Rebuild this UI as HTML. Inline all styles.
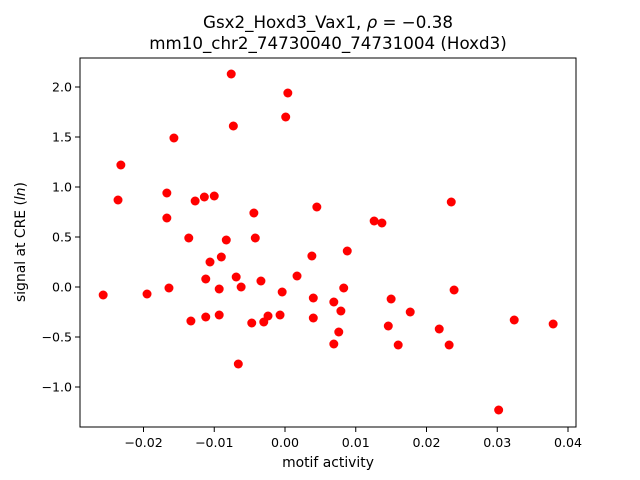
<!DOCTYPE html>
<html><head><meta charset="utf-8"><style>
body{margin:0;background:#fff;}
svg{display:block;font-family:"DejaVu Sans","Liberation Sans",sans-serif;}
</style></head><body>
<svg id="chart" width="640" height="480">
<rect x="0" y="0" width="640" height="480" fill="#fff"/>
<text x="328" y="28" text-anchor="middle" font-size="16.7">Gsx2_Hoxd3_Vax1, <tspan font-style="italic">ρ</tspan> = −0.38</text>
<text x="328" y="49" text-anchor="middle" font-size="16.7">mm10_chr2_74730040_74731004 (Hoxd3)</text>
<g id="marks"></g>
<rect x="80" y="58" width="496" height="369" fill="none" stroke="#000" stroke-width="1"/>
<g id="axes"></g>
<text x="328" y="467" text-anchor="middle" font-size="13.9">motif activity</text>
<text transform="translate(25,242) rotate(-90)" text-anchor="middle" font-size="13.9">signal at CRE (<tspan font-style="italic">ln</tspan>)</text>
</svg>
<script>
const xValues=[-0.0257,-0.0236,-0.0232,-0.0195,-0.0167,-0.0167,-0.0164,-0.0157,-0.0136,-0.0133,-0.0127,-0.0114,-0.0112,-0.0112,-0.0106,-0.0100,-0.0093,-0.0093,-0.0090,-0.0083,-0.0076,-0.0073,-0.0069,-0.0066,-0.0062,-0.0047,-0.0044,-0.0042,-0.0034,-0.0030,-0.0024,-0.0007,-0.0004,0.0001,0.0004,0.0017,0.0038,0.0040,0.0040,0.0045,0.0069,0.0069,0.0076,0.0079,0.0083,0.0088,0.0126,0.0137,0.0146,0.0150,0.0160,0.0177,0.0218,0.0232,0.0235,0.0239,0.0302,0.0324,0.0379];
const yValues=[-0.08,0.87,1.22,-0.07,0.94,0.69,-0.01,1.49,0.49,-0.34,0.86,0.90,0.08,-0.30,0.25,0.91,-0.02,-0.28,0.30,0.47,2.13,1.61,0.10,-0.77,0.00,-0.36,0.74,0.49,0.06,-0.35,-0.29,-0.28,-0.05,1.70,1.94,0.11,0.31,-0.11,-0.31,0.80,-0.15,-0.57,-0.45,-0.24,-0.01,0.36,0.66,0.64,-0.39,-0.12,-0.58,-0.25,-0.42,-0.58,0.85,-0.03,-1.23,-0.33,-0.37];
const xTicks=[-0.02,-0.01,0.00,0.01,0.02,0.03,0.04];
const xTickLabels=["−0.02","−0.01","0.00","0.01","0.02","0.03","0.04"];
const yTicks=[-1.0,-0.5,0.0,0.5,1.0,1.5,2.0];
const yTickLabels=["−1.0","−0.5","0.0","0.5","1.0","1.5","2.0"];
const NS="http://www.w3.org/2000/svg";
function xs(v){return 285+v*7075;}
function ys(v){return 287-v*100;}
const marks=document.getElementById('marks');
xValues.forEach((xv,i)=>{
 const c=document.createElementNS(NS,'circle');
 c.setAttribute('cx',xs(xv));c.setAttribute('cy',ys(yValues[i]));c.setAttribute('r',4.5);c.setAttribute('fill','#ff0000');
 
 
 marks.appendChild(c);
});
const axes=document.getElementById('axes');
xTicks.forEach((t,i)=>{
 const x=xs(t);
 const l=document.createElementNS(NS,'line');
 l.setAttribute('x1',x);l.setAttribute('x2',x);l.setAttribute('y1',427);l.setAttribute('y2',432);l.setAttribute('stroke','#000');
 
 
 axes.appendChild(l);
 const tx=document.createElementNS(NS,'text');
 tx.setAttribute('x',x);tx.setAttribute('y',447);tx.setAttribute('text-anchor','middle');tx.setAttribute('font-size','12.6');
 tx.textContent=xTickLabels[i];
 
 
 axes.appendChild(tx);
});
yTicks.forEach((t,i)=>{
 const y=ys(t);
 const l=document.createElementNS(NS,'line');
 l.setAttribute('x1',75);l.setAttribute('x2',80);l.setAttribute('y1',y);l.setAttribute('y2',y);l.setAttribute('stroke','#000');
 
 
 axes.appendChild(l);
 const tx=document.createElementNS(NS,'text');
 tx.setAttribute('x',72);tx.setAttribute('y',y+4.5);tx.setAttribute('text-anchor','end');tx.setAttribute('font-size','12.6');
 tx.textContent=yTickLabels[i];
 
 
 axes.appendChild(tx);
});
</script>
</body></html>
